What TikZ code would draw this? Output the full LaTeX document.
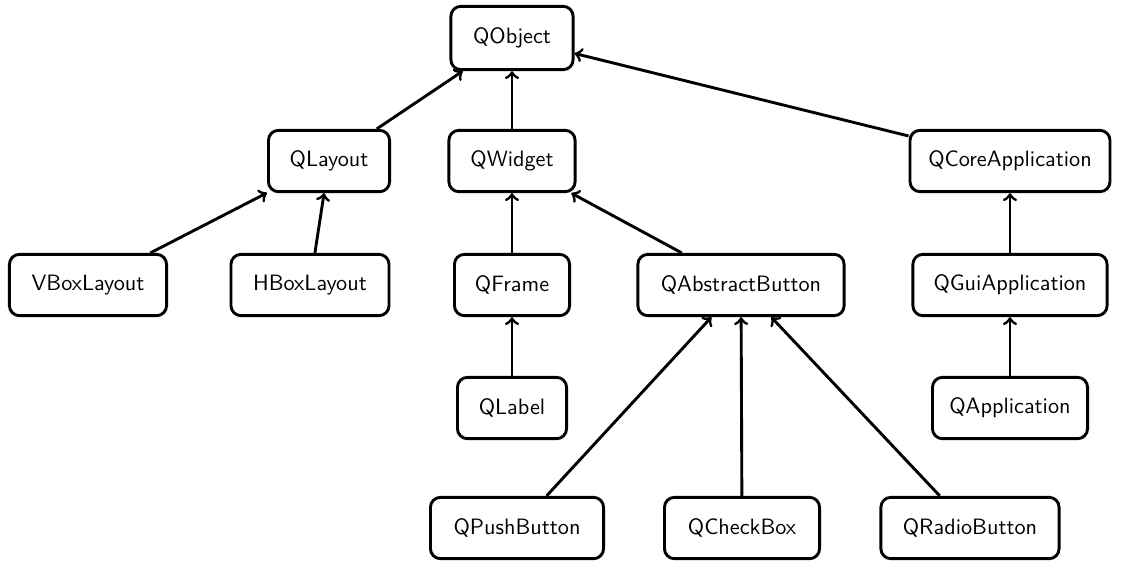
\documentclass[tikz,border=0pt]{standalone}
\usepackage{tikz}
\usetikzlibrary{calc}

\begin{document}
\begin{tikzpicture}[x=0.45pt,y=-0.45pt]%%qt classes

                \tikzstyle{cls}  = [draw, rounded corners=4.5pt, line width=1.3pt, minimum height=27.6pt, inner xsep=5pt, font=\sffamily]
                \tikzstyle{inh}  = [->, line width=1.3pt]
                \useasboundingbox (0,0) rectangle (1122,560);

                \node [cls, minimum width=55pt, minimum height=28.5pt](qobject) at (512,38) {QObject};
                \node [cls, minimum width=54.5pt](qlayout) at (329,161) {QLayout};
                \node [cls, minimum width=56.8pt](qwidget) at (512,161) {QWidget};
                \node [cls, minimum width=90pt](qcore) at (1010,161) {QCoreApplication};
                \node [cls, minimum width=70.7pt](vbox) at (88,285) {VBoxLayout};
                \node [cls, minimum width=71.1pt](hbox) at (310,285) {HBoxLayout};
                \node [cls, minimum width=51.8pt](qframe) at (512,285) {QFrame};
                \node [cls, minimum width=92.8pt](qabstract) at (741,285) {QAbstractButton};
                \node [cls, minimum width=87.4pt](qgui) at (1010,285) {QGuiApplication};
                \node [cls, minimum width=49.1pt](qlabel) at (512,408) {QLabel};
                \node [cls, minimum width=69.8pt](qapp) at (1010,408) {QApplication};
                \node [cls, minimum width=77.9pt](qpush) at (517,528) {QPushButton};
                \node [cls, minimum width=69.8pt](qcheck) at (742,528) {QCheckBox};
                \node [cls, minimum width=80.2pt](qradio) at (970,528) {QRadioButton};

                \foreach \c/\p in {qlayout/qobject, qwidget/qobject, qcore/qobject,
                                   vbox/qlayout, hbox/qlayout, qframe/qwidget,
                                   qabstract/qwidget, qlabel/qframe, qgui/qcore,
                                   qapp/qgui, qpush/qabstract, qcheck/qabstract,
                                   qradio/qabstract}{
                        \draw [inh] (\c) -- (\p);
                }
\end{tikzpicture}
\end{document}
